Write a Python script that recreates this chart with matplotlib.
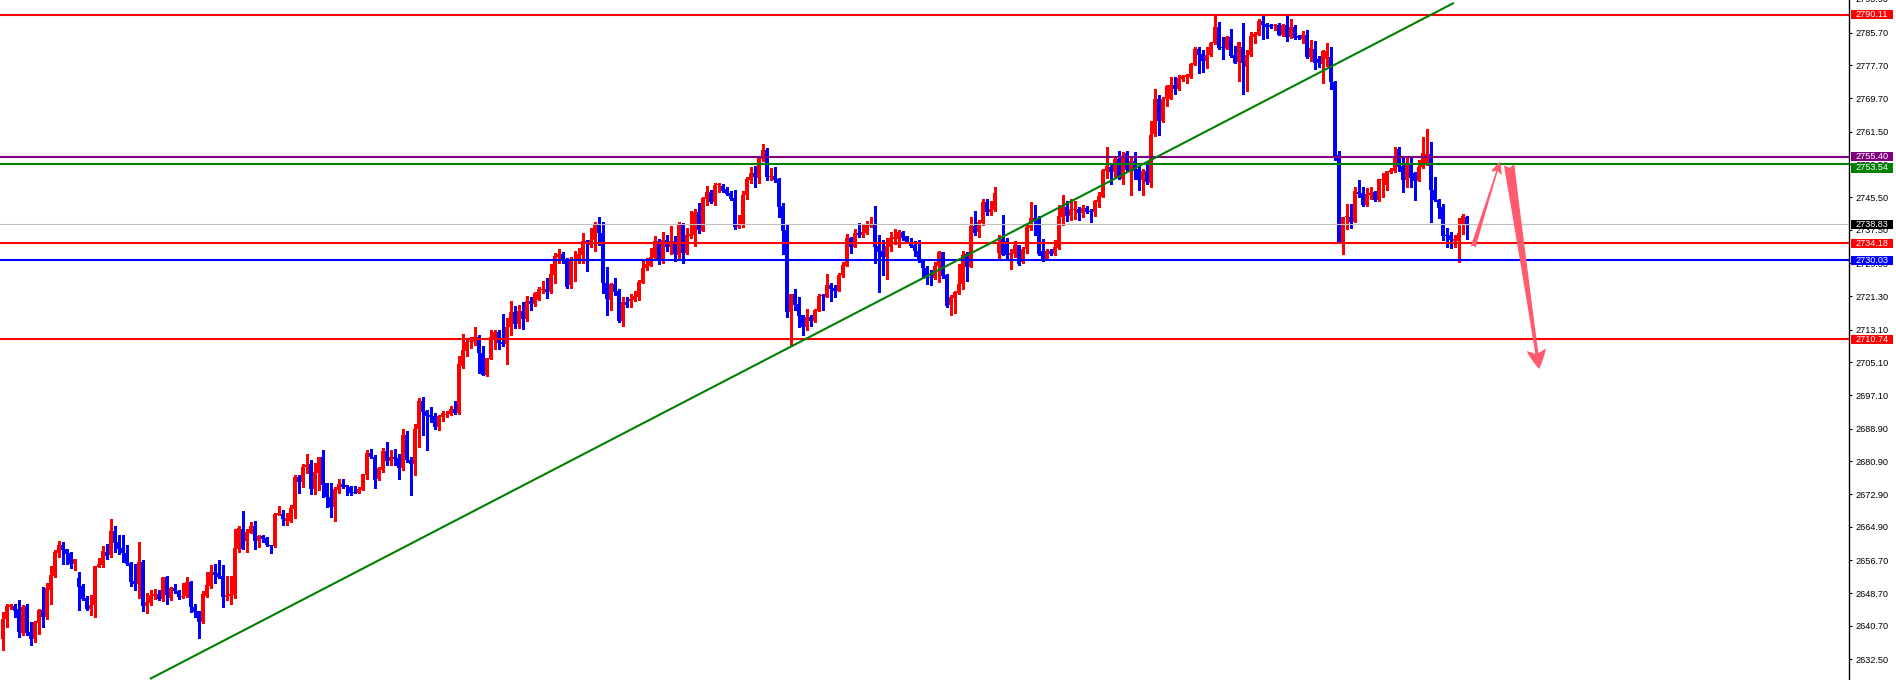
import matplotlib
matplotlib.use('Agg')
import matplotlib.pyplot as plt
from matplotlib.patches import Rectangle
import numpy as np

# ---------------- data ----------------
opens = [2637.5,2642.3,2645.4,2645.5,2644.9,2638.9,2645.5,2639.2,2637.5,2641.4,
2644.6,2642.9,2649.4,2652.9,2658.6,2660.4,2659.4,2658.6,2655.8,2652.3,
2650.5,2647.5,2644.9,2645.7,2655.1,2655.5,2658.7,2657.9,2663.9,2661.2,
2659.7,2658.6,2656.0,2651.7,2650.8,2656.3,2645.5,2646.3,2648.0,2648.5,
2647.3,2652.6,2647.5,2649.9,2649.1,2647.8,2648.0,2651.4,2645.4,2644.3,
2641.6,2648.1,2650.5,2653.9,2653.5,2652.9,2647.7,2648.1,2648.3,2659.5,
2664.4,2661.4,2663.4,2665.1,2661.5,2662.6,2662.2,2660.4,2660.1,2667.9,
2668.0,2666.4,2666.4,2669.3,2677.1,2675.9,2679.4,2680.3,2674.1,2678.1,
2681.9,2675.5,2672.3,2669.8,2673.9,2675.4,2675.1,2674.7,2673.5,2673.2,
2673.9,2677.6,2682.9,2682.0,2676.7,2678.8,2683.4,2680.9,2682.0,2681.7,
2679.2,2687.3,2681.2,2680.3,2688.7,2695.6,2693.1,2692.2,2692.0,2689.4,
2691.8,2692.2,2692.5,2693.6,2692.6,2704.2,2708.0,2710.0,2710.0,2711.4,
2707.5,2702.0,2706.0,2710.9,2712.5,2710.0,2709.5,2713.7,2717.4,2714.6,
2717.7,2715.8,2720.0,2719.4,2720.4,2722.8,2723.0,2722.3,2726.5,2730.8,
2731.6,2730.4,2723.9,2730.1,2730.1,2731.4,2734.7,2733.9,2734.9,2738.9,
2736.8,2724.6,2720.4,2724.3,2722.5,2715.1,2719.9,2720.0,2720.4,2721.2,
2724.6,2728.1,2728.7,2730.6,2734.7,2730.4,2735.0,2733.4,2734.7,2731.3,
2738.9,2731.9,2736.0,2736.3,2741.9,2737.3,2745.1,2746.8,2744.3,2748.4,
2748.2,2747.6,2746.6,2745.3,2738.3,2738.8,2746.0,2749.7,2751.5,2750.2,
2754.9,2757.0,2750.5,2750.7,2749.9,2743.3,2737.5,2717.4,2721.8,2719.4,
2716.6,2713.7,2716.1,2715.1,2717.7,2721.5,2721.2,2723.9,2723.3,2722.6,
2726.4,2728.7,2735.4,2733.4,2736.7,2736.3,2736.7,2738.4,2738.9,2733.6,
2732.3,2730.9,2733.4,2735.3,2735.3,2737.0,2736.0,2734.6,2733.7,2732.3,
2730.0,2728.2,2726.0,2725.7,2728.6,2732.1,2726.4,2719.2,2720.8,2722.1,
2724.2,2731.5,2728.3,2738.4,2737.0,2739.1,2744.3,2741.9,2742.4,2731.9,
2735.3,2734.7,2731.3,2731.6,2733.7,2729.6,2732.8,2738.0,2740.3,2740.5,
2732.4,2730.3,2732.4,2731.6,2733.1,2740.7,2743.2,2740.9,2742.4,2742.7,
2741.7,2742.9,2742.2,2741.9,2744.3,2745.6,2751.8,2752.9,2751.6,2754.9,
2749.9,2756.2,2752.1,2754.4,2752.3,2749.7,2752.0,2748.9,2760.9,2769.6,
2764.2,2769.4,2769.6,2773.0,2771.9,2774.5,2774.9,2774.8,2777.9,2781.6,
2780.5,2778.9,2780.2,2783.1,2787.0,2782.1,2781.8,2784.7,2780.3,2778.5,
2782.3,2777.2,2780.2,2784.7,2785.2,2788.6,2787.8,2787.5,2787.3,2787.5,
2785.2,2787.7,2784.6,2787.2,2784.9,2784.2,2785.2,2779.7,2781.8,2779.2,
2778.1,2779.3,2779.7,2773.7,2755.7,2734.4,2740.6,2740.7,2739.4,2746.8,
2746.4,2743.5,2746.1,2746.8,2744.8,2749.7,2748.5,2751.6,2751.8,2757.3,
2753.1,2749.7,2753.3,2751.5,2749.5,2752.8,2753.4,2756.0,2747.3,2744.8,
2743.1,2736.3,2736.2,2734.7,2734.7,2738.8,2740.7]

highs = [2644.1,2646.0,2646.0,2646.0,2647.0,2645.8,2646.0,2641.6,2641.9,2644.9,
2650.3,2651.2,2655.3,2659.2,2661.5,2661.2,2659.5,2658.7,2657.1,2653.9,
2650.8,2648.1,2648.3,2655.3,2657.3,2660.2,2660.7,2666.7,2665.0,2662.8,
2662.8,2660.4,2656.4,2655.9,2661.2,2656.8,2648.6,2649.4,2649.8,2649.4,
2652.7,2652.9,2650.3,2650.9,2649.4,2651.1,2652.7,2651.7,2645.9,2644.4,
2649.1,2653.9,2655.5,2655.9,2656.8,2655.5,2652.9,2652.9,2664.4,2665.1,
2668.8,2664.4,2666.0,2666.4,2662.8,2662.8,2662.3,2660.5,2668.2,2670.0,
2669.0,2668.3,2670.2,2677.6,2677.6,2680.3,2682.7,2681.2,2680.4,2682.0,
2683.7,2675.5,2675.5,2674.6,2676.7,2676.7,2675.2,2674.9,2674.9,2674.7,
2677.8,2683.7,2683.9,2682.5,2679.6,2684.2,2685.6,2683.7,2683.8,2682.7,
2688.7,2688.2,2681.9,2690.0,2696.4,2696.7,2693.5,2694.1,2692.8,2692.3,
2693.1,2693.1,2694.4,2695.6,2706.7,2712.0,2710.8,2711.3,2713.8,2711.8,
2709.2,2706.2,2713.0,2713.0,2713.0,2717.0,2715.9,2720.0,2719.0,2719.2,
2719.9,2721.3,2721.0,2722.3,2723.6,2724.9,2725.7,2729.2,2731.9,2732.8,
2732.1,2730.6,2730.9,2732.4,2733.1,2736.8,2735.0,2738.0,2739.4,2740.6,
2739.4,2728.3,2724.4,2725.7,2723.0,2721.2,2721.0,2721.7,2722.5,2725.2,
2730.0,2730.5,2733.1,2736.0,2735.2,2737.0,2736.2,2738.4,2736.0,2739.4,
2739.1,2738.0,2742.2,2742.7,2744.1,2745.5,2748.2,2747.3,2749.0,2748.9,
2748.7,2748.1,2746.9,2747.3,2741.1,2746.9,2750.5,2752.9,2753.1,2755.4,
2758.5,2757.5,2752.6,2752.9,2750.2,2744.1,2738.6,2721.8,2723.1,2721.0,
2716.8,2718.1,2716.8,2718.1,2721.8,2721.7,2726.7,2724.4,2724.0,2727.0,
2729.6,2736.5,2735.8,2737.8,2739.1,2738.8,2739.6,2740.7,2743.3,2736.2,
2735.1,2735.5,2737.0,2737.7,2737.5,2737.3,2736.0,2735.5,2734.7,2735.0,
2730.1,2728.6,2727.8,2729.6,2732.4,2732.1,2726.8,2721.5,2722.6,2729.2,
2732.3,2732.1,2740.7,2742.2,2739.9,2745.1,2745.0,2744.6,2747.9,2736.2,
2741.2,2735.4,2732.8,2734.7,2733.9,2733.4,2738.6,2744.3,2743.6,2740.9,
2735.3,2732.9,2732.8,2735.0,2743.5,2746.1,2744.5,2745.1,2744.5,2743.2,
2743.5,2743.3,2742.5,2744.8,2746.8,2752.5,2757.8,2753.8,2755.4,2756.7,
2756.5,2756.7,2755.1,2756.5,2753.1,2752.5,2754.4,2764.2,2771.9,2770.5,
2770.0,2772.8,2774.8,2774.8,2775.4,2775.4,2775.6,2778.2,2782.3,2782.3,
2781.5,2782.3,2783.4,2789.8,2788.2,2784.7,2784.9,2786.5,2782.5,2783.4,
2788.0,2781.5,2785.9,2785.9,2789.1,2790.1,2788.0,2787.8,2787.8,2788.0,
2787.8,2790.1,2789.0,2787.7,2785.2,2786.0,2786.4,2783.9,2783.6,2780.0,
2781.5,2783.1,2782.1,2773.8,2756.9,2740.7,2743.8,2743.8,2748.1,2749.7,
2747.9,2747.7,2747.9,2747.1,2750.0,2751.3,2752.0,2752.6,2757.8,2757.8,
2755.2,2755.1,2755.6,2751.6,2754.7,2760.1,2762.2,2759.0,2750.5,2745.0,
2743.8,2738.0,2737.0,2736.3,2740.4,2741.4,2740.9]

lows = [2634.8,2640.5,2644.7,2642.9,2637.9,2638.4,2638.4,2635.9,2636.7,2638.6,
2640.5,2642.4,2646.0,2652.6,2657.6,2655.9,2655.8,2654.9,2654.4,2644.6,
2647.0,2644.6,2643.4,2642.9,2655.1,2655.0,2657.1,2657.6,2658.7,2658.2,
2656.3,2655.6,2650.5,2649.4,2647.5,2644.4,2643.7,2645.7,2647.3,2647.0,
2646.8,2646.0,2647.0,2648.8,2647.3,2647.5,2647.7,2644.1,2642.9,2637.7,
2641.3,2647.8,2649.9,2651.1,2652.4,2645.4,2647.0,2645.9,2647.5,2658.7,
2659.5,2658.7,2663.3,2659.4,2659.9,2661.2,2660.1,2658.6,2659.9,2667.9,
2665.3,2665.3,2666.0,2667.0,2673.1,2674.7,2678.0,2672.9,2672.9,2673.9,
2672.3,2669.8,2667.2,2666.4,2673.2,2674.4,2672.7,2672.7,2673.1,2673.2,
2673.9,2676.5,2681.6,2674.4,2676.3,2678.2,2679.9,2679.9,2680.1,2676.7,
2678.8,2680.7,2672.7,2677.6,2684.5,2687.4,2683.7,2690.4,2688.9,2688.6,
2690.8,2691.8,2692.3,2692.5,2692.5,2703.7,2706.7,2708.6,2709.3,2702.6,
2702.1,2701.7,2706.0,2708.3,2708.3,2709.0,2704.7,2711.9,2713.5,2713.5,
2713.3,2715.3,2717.9,2719.0,2720.4,2722.1,2720.8,2722.1,2724.4,2729.5,
2729.5,2723.3,2723.3,2724.9,2729.5,2729.5,2727.5,2733.2,2732.4,2733.8,
2722.1,2716.8,2717.9,2721.5,2715.0,2714.0,2718.7,2718.7,2720.0,2720.4,
2724.4,2727.8,2728.6,2730.4,2729.1,2729.5,2732.3,2731.5,2729.9,2730.4,
2729.5,2731.5,2735.4,2733.6,2736.8,2737.2,2743.5,2744.1,2743.6,2746.8,
2746.8,2746.0,2744.8,2737.8,2738.0,2738.1,2745.1,2748.9,2748.1,2749.0,
2754.4,2749.7,2749.7,2749.2,2740.7,2731.5,2716.3,2709.1,2717.9,2713.7,
2711.9,2712.9,2714.0,2715.0,2717.6,2717.9,2721.0,2720.2,2721.2,2722.5,
2726.0,2728.6,2731.9,2733.2,2735.8,2735.8,2736.5,2738.3,2729.5,2722.3,
2726.5,2725.6,2732.4,2734.1,2733.4,2734.9,2734.4,2733.4,2731.1,2729.6,
2725.7,2724.3,2723.9,2725.6,2724.7,2725.7,2718.7,2716.8,2717.1,2721.7,
2723.1,2724.9,2728.3,2736.2,2735.8,2738.8,2741.1,2741.1,2742.0,2730.3,
2731.3,2730.6,2727.9,2730.8,2729.0,2729.5,2731.9,2737.5,2736.2,2731.3,
2730.0,2730.1,2731.4,2731.4,2732.9,2738.8,2739.6,2739.9,2740.2,2739.9,
2740.7,2741.6,2739.4,2740.9,2743.2,2745.5,2750.2,2748.7,2750.2,2749.9,
2748.7,2751.8,2746.1,2749.9,2747.3,2746.1,2748.7,2748.1,2760.4,2760.8,
2763.9,2767.9,2769.4,2770.7,2771.7,2774.0,2773.3,2774.6,2777.7,2775.8,
2776.1,2777.1,2780.0,2782.9,2781.8,2779.3,2781.8,2779.8,2778.2,2773.8,
2770.7,2771.5,2780.0,2783.3,2785.1,2784.2,2784.4,2786.9,2786.4,2785.1,
2784.9,2783.6,2784.4,2784.2,2784.2,2783.1,2779.5,2778.7,2776.9,2777.4,
2773.3,2777.6,2771.9,2754.7,2734.4,2731.5,2737.8,2738.0,2739.3,2745.6,
2743.3,2743.3,2745.1,2744.6,2744.6,2745.6,2747.3,2751.3,2751.6,2751.8,
2746.8,2747.9,2747.9,2744.8,2749.4,2752.6,2753.3,2739.4,2744.6,2740.3,
2735.0,2733.4,2733.1,2733.2,2729.6,2736.5,2735.2]

closes = [2642.3,2645.5,2645.7,2644.4,2639.2,2645.4,2638.9,2637.5,2641.6,2644.6,
2642.9,2649.9,2653.0,2658.7,2660.4,2659.2,2658.2,2655.8,2657.1,2650.3,
2647.3,2644.9,2645.7,2655.3,2655.8,2659.1,2657.7,2663.9,2661.0,2659.5,
2658.4,2655.9,2651.4,2650.8,2656.4,2645.5,2646.5,2648.3,2648.5,2647.3,
2652.6,2648.3,2649.9,2649.3,2647.8,2648.1,2651.4,2645.4,2644.1,2641.6,
2648.5,2650.6,2653.9,2653.2,2652.6,2647.7,2648.3,2648.5,2659.7,2664.6,
2659.5,2663.7,2665.1,2661.5,2662.6,2661.8,2660.4,2660.1,2668.0,2668.2,
2666.9,2667.1,2669.5,2677.0,2675.9,2679.6,2680.1,2674.1,2678.3,2681.9,
2675.0,2672.1,2669.8,2674.1,2675.4,2674.6,2674.7,2673.2,2673.2,2674.2,
2677.8,2682.9,2681.9,2676.3,2679.2,2683.4,2680.9,2681.9,2681.4,2679.3,
2687.4,2681.2,2680.3,2688.7,2695.7,2693.0,2692.0,2691.7,2689.4,2692.0,
2692.8,2692.5,2693.6,2692.8,2704.7,2708.1,2710.1,2710.1,2711.3,2707.3,
2702.1,2706.2,2711.4,2712.5,2709.8,2709.5,2713.8,2717.4,2714.6,2717.7,
2715.8,2720.0,2719.4,2722.0,2723.1,2723.0,2722.3,2726.7,2731.1,2731.6,
2730.3,2723.6,2730.1,2730.3,2731.6,2734.7,2734.2,2735.0,2738.9,2736.8,
2724.6,2720.5,2724.3,2722.3,2715.1,2719.9,2719.2,2720.5,2721.3,2724.8,
2728.2,2729.1,2730.8,2734.7,2730.3,2735.0,2733.4,2734.7,2731.5,2738.9,
2731.9,2736.2,2736.5,2741.9,2737.5,2745.3,2746.8,2744.3,2748.5,2748.7,
2747.1,2746.3,2745.1,2738.3,2738.9,2746.0,2749.9,2751.5,2750.5,2755.1,
2757.0,2750.5,2750.7,2749.7,2743.2,2737.3,2717.3,2721.8,2719.2,2716.4,
2713.8,2716.1,2715.3,2717.9,2721.3,2721.3,2723.9,2723.1,2722.6,2726.5,
2729.0,2735.4,2733.4,2736.8,2736.2,2737.0,2738.6,2738.9,2733.4,2732.1,
2730.8,2733.6,2735.5,2735.7,2737.0,2735.5,2734.6,2733.6,2732.3,2729.8,
2728.2,2725.9,2725.7,2728.7,2732.1,2726.2,2719.0,2721.2,2722.3,2724.3,
2731.3,2728.3,2738.4,2736.8,2739.3,2744.3,2741.9,2742.5,2746.6,2734.4,
2731.3,2731.3,2731.9,2733.7,2729.2,2732.9,2738.1,2740.3,2739.9,2731.5,
2730.4,2732.4,2731.6,2733.2,2740.9,2743.2,2740.9,2742.5,2742.7,2741.7,
2742.9,2741.9,2741.9,2744.5,2745.8,2752.1,2753.1,2751.6,2754.9,2750.3,
2755.6,2752.1,2754.4,2752.0,2749.7,2752.0,2749.2,2760.7,2769.5,2764.2,
2769.6,2772.7,2773.0,2772.0,2774.6,2775.1,2775.3,2778.1,2781.8,2780.3,
2778.7,2780.3,2783.1,2787.0,2782.0,2782.0,2784.6,2780.0,2778.4,2783.4,
2778.2,2780.3,2784.9,2785.4,2788.6,2787.5,2787.2,2787.2,2787.7,2785.2,
2787.7,2784.7,2787.2,2784.4,2784.4,2785.2,2779.7,2782.0,2778.2,2778.2,
2781.2,2781.2,2773.7,2755.4,2734.4,2740.7,2740.7,2739.4,2746.9,2746.3,
2743.5,2746.3,2746.6,2744.8,2749.9,2749.9,2751.8,2752.1,2755.2,2752.9,
2749.7,2753.4,2750.2,2749.5,2752.9,2756.2,2756.0,2747.3,2744.8,2742.9,
2736.0,2736.0,2734.9,2735.2,2736.7,2740.9,2738.83]

level_values = [2790.11, 2755.40, 2753.54, 2738.83, 2734.18, 2730.03, 2710.74]
level_line_colors = ['#ff0000', '#800080', '#008000', '#c0c0c0', '#ff0000', '#0000ff', '#ff0000']
level_box_colors = ['#ff0000', '#800080', '#008000', '#000000', '#ff0000', '#0000ff', '#ff0000']
level_widths = [1.5, 1.5, 1.5, 0.8, 1.5, 1.5, 1.5]

tick_values = [2785.70, 2777.70, 2769.70, 2761.50, 2753.50, 2745.50, 2737.50, 2729.30,
               2721.30, 2713.10, 2705.10, 2697.10, 2688.90, 2680.90, 2672.90, 2664.90,
               2656.70, 2648.70, 2640.70, 2632.50]
top_partial_tick = 2793.90

trend_x = [36.8, 362.8]
trend_y = [2627.7, 2793.0]

arrow_up_tail = (367.6, 2733.3)
arrow_up_head = (374.3, 2754.1)
arrow_down_tail = (376.6, 2753.4)
arrow_down_head = (384.1, 2703.5)

# ---------------- figure ----------------
W, H, DPI = 1896, 680, 100
fig = plt.figure(figsize=(W / DPI, H / DPI), dpi=DPI)
fig.patch.set_facecolor('white')
axis_px = 1849
ax = fig.add_axes([0, 0, axis_px / W, 1])
ax.set_facecolor('white')

o = np.array(opens); h = np.array(highs); l = np.array(lows); c = np.array(closes)
n = len(o)
x = np.arange(n)
up = c >= o
cols = np.where(up, '#ff0000', '#0000ff')

ax.vlines(x, l, h, colors=cols, linewidth=0.75, antialiased=False, zorder=2)
bottoms = np.minimum(o, c)
heights = np.maximum(np.abs(c - o), 0.25)
ax.bar(x, heights, bottom=bottoms, width=0.75, color=cols, edgecolor=cols,
       linewidth=0, antialiased=False, zorder=3)

# horizontal levels
for v, col, lw in zip(level_values, level_line_colors, level_widths):
    ax.axhline(v, color=col, linewidth=lw, zorder=4)

# trend line
ax.plot(trend_x, trend_y, color='#008000', linewidth=1.5, zorder=4, solid_capstyle='butt')

# arrows
arrow_col = '#ff5a6e'
ax.annotate('', xy=arrow_up_head, xytext=arrow_up_tail,
            arrowprops=dict(arrowstyle='fancy,head_length=0.85,head_width=0.8,tail_width=0.35',
                            fc=arrow_col, ec='none', mutation_scale=10,
                            shrinkA=0, shrinkB=0), zorder=6)
ax.annotate('', xy=arrow_down_head, xytext=arrow_down_tail,
            arrowprops=dict(arrowstyle='fancy,head_length=1.4,head_width=1.4,tail_width=0.75',
                            fc=arrow_col, ec='none', mutation_scale=10,
                            shrinkA=0, shrinkB=0), zorder=6)

# axes limits (x in candle index, y in price)
px_per_candle = 4.0
x0 = -2.7 / px_per_candle
ax.set_xlim(x0, x0 + axis_px / px_per_candle)
ax.set_ylim(2627.44, 2793.70)

# spines / ticks
for s in ['left', 'top', 'bottom']:
    ax.spines[s].set_visible(False)
ax.spines['right'].set_color('black')
ax.spines['right'].set_linewidth(1.0)
ax.set_xticks([])
ax.yaxis.tick_right()
ax.set_yticks(tick_values)
ax.set_yticklabels(['%.2f' % t for t in tick_values])
ax.tick_params(axis='y', direction='out', length=2.5, width=0.8, pad=2,
               labelsize=6.6, colors='black')
for lab in ax.get_yticklabels():
    lab.set_fontfamily('Liberation Sans')

ytr = ax.get_yaxis_transform()
ax.text(1.0035, top_partial_tick, '%.2f' % top_partial_tick, transform=ytr,
        fontsize=6.6, family='Liberation Sans', va='center', ha='left', clip_on=False)

# right-hand price label boxes
box_x0 = 1851 / axis_px
box_w = 42 / axis_px
box_h = 2.3
order = [0, 2, 1, 3, 4, 5, 6]
offsets = {2: -0.9}
for i in order:
    v = level_values[i]
    yc = v + offsets.get(i, 0.0)
    ax.add_patch(Rectangle((box_x0, yc - box_h / 2), box_w, box_h, transform=ytr,
                           facecolor=level_box_colors[i], edgecolor='none',
                           clip_on=False, zorder=10 + order.index(i)))
    ax.text(box_x0 + box_w / 2, yc, '%.2f' % v, transform=ytr, color='white',
            fontsize=6.6, family='Liberation Sans', ha='center', va='center',
            clip_on=False, zorder=10.5 + order.index(i))

fig.savefig('out.png', dpi=DPI, facecolor='white')
